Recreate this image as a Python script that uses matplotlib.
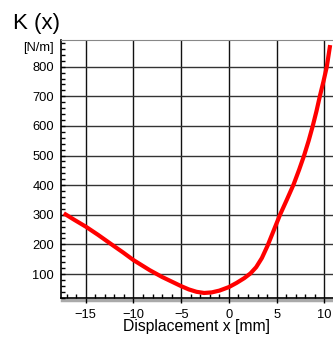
import matplotlib
matplotlib.use("Agg")
import matplotlib.pyplot as plt
from matplotlib.ticker import MultipleLocator

plt.rcParams['font.family'] = ['Liberation Sans', 'DejaVu Sans']

# Stiffness curve
disp_mm = [-17.3, -16.2, -15, -13.7, -12.3, -11.1, -10, -8.3, -7, -5, -4.2,
           -3.4, -2.6, -1.8, -1, 0, 0.8, 1.6, 2.25, 2.85, 3.45, 4.05, 4.7,
           5.35, 6.08, 6.78, 7.35, 7.87, 8.35, 8.78, 9.17, 9.52, 9.9, 10.25, 10.6]
stiff_nm = [305, 283, 260, 232, 200, 173, 147, 113, 90, 59, 48,
            40, 36, 38, 44, 56, 70, 86, 102, 123, 154, 196, 248,
            300, 352, 403, 452, 500, 550, 600, 650, 700, 750, 800, 873]

x_ticks = [-15, -10, -5, 0, 5, 10]
y_ticks = [100, 200, 300, 400, 500, 600, 700, 800]

fig = plt.figure(figsize=(3.33, 3.38), dpi=100)
ax = fig.add_axes([0.183, 0.1183, 0.817, 0.7633])

ax.plot(disp_mm, stiff_nm, color="#ff0000", lw=3.0, solid_capstyle="butt",
        solid_joinstyle="round", zorder=3)

ax.set_xlim(-17.6, 10.9)
ax.set_ylim(19, 890)
ax.set_xticks(x_ticks)
ax.set_yticks(y_ticks)
ax.xaxis.set_minor_locator(MultipleLocator(1))
ax.yaxis.set_minor_locator(MultipleLocator(20))

ax.grid(True, which="major", axis="x", color="#111111", lw=1.0)
ax.grid(True, which="major", axis="y", color="#333333", lw=1.0)

ax.tick_params(axis="x", which="major", direction="out", length=3.5, width=1,
               labelsize=9.3, pad=4.5)
ax.tick_params(axis="x", which="minor", direction="in", length=3, width=1)
ax.tick_params(axis="y", which="major", direction="in", length=3, width=1,
               labelsize=9.3, pad=5)
ax.tick_params(axis="y", which="minor", direction="in", length=3, width=1)

ax.spines["left"].set_linewidth(1.2)
ax.spines["bottom"].set_linewidth(1.2)
ax.spines["top"].set_color("#888888")
ax.spines["right"].set_visible(False)

# gray shadow under the x axis
ax.plot([0.005, 1], [-0.006, -0.006], transform=ax.transAxes, color="#aaaaaa",
        lw=2.5, clip_on=False, zorder=1)

ax.set_xlabel("Displacement x [mm]", fontsize=11.3, labelpad=-1.2)
ax.text(-0.025, 0.969, "[N/m]", transform=ax.transAxes, ha="right", va="center",
        fontsize=9.3)
fig.text(0.038, 0.915, "K (x)", fontsize=16, va="baseline", ha="left")

plt.savefig("out.png", dpi=100)
